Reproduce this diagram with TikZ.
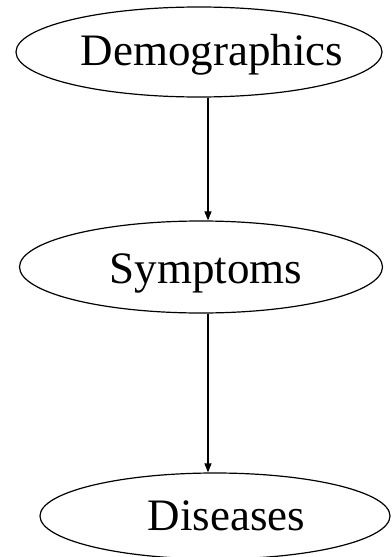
\documentclass[tikz,border=0pt]{standalone}
\usepackage{fontspec}
\setmainfont{Liberation Serif}
\usetikzlibrary{shapes.geometric,arrows.meta}
\begin{document}
\begin{tikzpicture}[x=1pt,y=1pt,
  oval/.style={draw=black,line width=1.2pt,ellipse,inner sep=0pt,minimum width=#1},
  lbl/.style={anchor=base,inner sep=0pt,font=\fontsize{45}{50}\selectfont},
  arr/.style={draw=black,line width=1.1pt,-{Triangle[length=9pt,width=7pt]}}]
\useasboundingbox (0,0) rectangle (391,-557);
\fill[white] (0,0) rectangle (391,-557);
\node[oval=366, minimum height=90] (demo) at (199,-52) {};
\node[oval=363, minimum height=92] (symp) at (201,-267) {};
\node[oval=350, minimum height=86] (dis) at (215,-516) {};
\node[lbl] (demoT) at (212,-65) {Demographics};
\node[lbl] (sympT) at (206,-283) {Symptoms};
\node[lbl] (disT) at (226.5,-530) {Diseases};
\coordinate (ax) at (208,0);
\draw[arr] (demo.south -| ax) -- (symp.north -| ax);
\draw[arr] (symp.south -| ax) -- (dis.north -| ax);
\end{tikzpicture}
\end{document}
